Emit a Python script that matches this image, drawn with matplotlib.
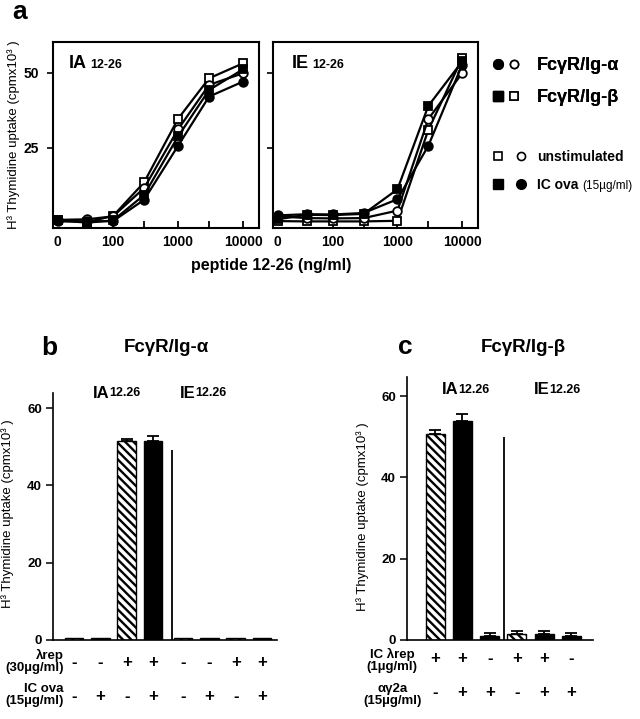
import numpy as np
import matplotlib
matplotlib.use("Agg")
import matplotlib.pyplot as plt
import matplotlib.transforms as mtransforms
from matplotlib.lines import Line2D
from matplotlib.legend_handler import HandlerTuple
from matplotlib.ticker import NullLocator

plt.rcParams["font.family"] = ["Liberation Sans", "DejaVu Sans"]
plt.rcParams["font.weight"] = "bold"
plt.rcParams["hatch.linewidth"] = 1.7

# ---- panel a: proliferation vs peptide dose ----
DOSES    = [0, 40, 100, 300, 1000, 3000, 10000]
ZERO_POS = 14     # where the "0" dose sits on the log axis

IA_ALPHA_OVA = [0.5, 0.5, 0.6, 7.7, 25.7, 42.1, 47.1]
IA_ALPHA_UNS = [1.0, 1.2, 2.2, 11.6, 31.2, 46.0, 49.9]
IA_BETA_OVA  = [0.8, 0.1, 0.8, 9.3, 28.8, 44.3, 51.2]
IA_BETA_UNS  = [1.0, 0.3, 2.3, 13.5, 34.7, 48.2, 53.2]

IE_ALPHA_OVA = [2.5, 2.9, 2.8, 3.3, 7.9, 25.7, 52.7]
IE_ALPHA_UNS = [2.2, 1.6, 1.5, 1.6, 4.1, 34.6, 49.9]
IE_BETA_OVA  = [1.2, 2.7, 2.6, 3.0, 11.2, 39.0, 53.8]
IE_BETA_UNS  = [0.6, 0.5, 0.5, 0.5, 0.7, 31.0, 54.9]

# ---- panel b: FcgR/Ig-alpha ----
B_LAMBDA = ["-", "-", "+", "+", "-", "-", "+", "+"]
B_ICOVA  = ["-", "+", "-", "+", "-", "+", "-", "+"]
B_VALUES = [0.6, 0.4, 51.4, 51.4, 0.6, 0.4, 0.4, 0.4]
B_ERRORS = [0.0, 0.0, 0.7, 1.3, 0.0, 0.0, 0.0, 0.0]

# ---- panel c: FcgR/Ig-beta ----
C_LAMBDA = ["+", "+", "-", "+", "+", "-"]
C_AG2A   = ["-", "+", "+", "-", "+", "+"]
C_VALUES = [50.8, 53.9, 1.0, 1.4, 1.4, 1.0]
C_ERRORS = [0.8, 1.8, 0.6, 0.8, 0.8, 0.6]

YLABEL = "H³ Thymidine uptake (cpmx10³ )"

W, H = 640, 719
fig = plt.figure(figsize=(W / 100, H / 100), dpi=100, facecolor="white")


def px_axes(l, t, r, b):
    return fig.add_axes([l / W, 1 - b / H, (r - l) / W, (b - t) / H])


def fy(y):
    return 1 - y / H


def label_with_sub(ax, x, y, main, sub, size, subsize, gap):
    t = ax.text(x, y, main, transform=ax.transAxes, fontsize=size,
                ha="left", va="center")
    ax.annotate(sub, xy=(1, 0.08), xycoords=t, xytext=(gap, 0),
                textcoords="offset points", fontsize=subsize,
                ha="left", va="bottom")


# ================= panel a =================
xpos = [ZERO_POS if d == 0 else d for d in DOSES]
series = [
    ("IA", [(IA_BETA_UNS, "s", "white"), (IA_ALPHA_UNS, "o", "white"),
            (IA_BETA_OVA, "s", "black"), (IA_ALPHA_OVA, "o", "black")]),
    ("IE", [(IE_BETA_UNS, "s", "white"), (IE_ALPHA_UNS, "o", "white"),
            (IE_BETA_OVA, "s", "black"), (IE_ALPHA_OVA, "o", "black")]),
]
boxes = [(53, 42, 259, 228), (273, 42, 478, 228)]

for (name, ss), box in zip(series, boxes):
    ax = px_axes(*box)
    for vals, mk, fc in ss:
        ax.plot(xpos, vals, color="black", lw=1.6, marker=mk, ms=6.2,
                mfc=fc, mec="black", mew=1.3, zorder=3)
    ax.set_xscale("log")
    ax.set_xlim(11.9, 17600)
    ax.set_ylim(-1.7, 60.3)
    ax.set_xticks([ZERO_POS, 100, 300, 1000, 3000, 10000])
    ax.set_xticklabels(["0", "100", "", "1000", "", "10000"])
    ax.xaxis.set_minor_locator(NullLocator())
    ax.xaxis.get_major_ticks()[0].tick1line.set_visible(False)
    ax.tick_params(axis="x", direction="in", length=5, width=1.3,
                   pad=5, labelsize=10)
    ax.set_yticks([25, 50])
    ax.tick_params(axis="y", direction="out", length=4, width=1.2,
                   pad=6, labelsize=10)
    if name == "IE":
        ax.set_yticklabels([])
    else:
        ax.set_ylabel(YLABEL, fontsize=9.5)
        ax.yaxis.set_label_coords(-0.16, 0.5)
    for sp in ax.spines.values():
        sp.set_linewidth(1.5)
    label_with_sub(ax, 0.075 if name == "IA" else 0.09, 0.885,
                   name, "12-26", 13, 9, 3)

fig.text(271 / W, fy(265), "peptide 12-26 (ng/ml)", fontsize=11.5,
         ha="center", va="center")
fig.text(12 / W, fy(12), "a", fontsize=19, ha="left", va="center")

# legend for panel a
fc = Line2D([], [], marker="o", ls="none", color="black", ms=7)
oc = Line2D([], [], marker="o", ls="none", mfc="white", mec="black",
            ms=5.8, mew=1.2)
fs = Line2D([], [], marker="s", ls="none", color="black", ms=6.5)
os_ = Line2D([], [], marker="s", ls="none", mfc="white", mec="black",
             ms=6, mew=1.2)

leg1 = fig.legend([(fc, oc), (fs, os_)], ["FcγR/Ig-α", "FcγR/Ig-β"],
                  handler_map={tuple: HandlerTuple(ndivide=None, pad=0.0)},
                  loc="upper left", bbox_to_anchor=(490 / W, fy(57)),
                  frameon=False, fontsize=13, handlelength=1.77,
                  handletextpad=0.83, labelspacing=0.85,
                  borderpad=0, borderaxespad=0)
fig.add_artist(leg1)
fig.legend([(os_, oc), (fs, fc)], ["unstimulated", "IC ova"],
           handler_map={tuple: HandlerTuple(ndivide=None, pad=0.5)},
           loc="upper left", bbox_to_anchor=(490 / W, fy(150)),
           frameon=False, fontsize=10, handlelength=2.81,
           handletextpad=0.57, labelspacing=1.0,
           borderpad=0, borderaxespad=0)
fig.text(582 / W, fy(186), "(15µg/ml)", fontsize=8.5, fontweight="normal",
         ha="left", va="center")


# ================= panels b and c =================
def bar_panel(ax, xs, values, errors, hatched, xlim, ylim, divider, div_top):
    bars = ax.bar(xs, values, width=0.7, color="black", edgecolor="black",
                  linewidth=1.0, zorder=2)
    for b, h in zip(bars, hatched):
        if h:
            b.set_facecolor("white")
            b.set_hatch("\\\\\\\\")
    err = np.asarray(errors)
    m = err > 0
    xs = np.asarray(xs)
    vals = np.asarray(values)
    ax.errorbar(xs[m], vals[m], yerr=[np.zeros(m.sum()), err[m]], fmt="none",
                ecolor="black", elinewidth=1.3, capsize=4, capthick=1.3,
                zorder=3)
    ax.vlines(divider, 0, div_top, color="black", lw=1.3)
    ax.set_xlim(*xlim)
    ax.set_ylim(*ylim)
    ax.set_xticks([])
    ax.set_yticks([0, 20, 40, 60])
    ax.tick_params(axis="y", direction="out", length=5, width=1.1,
                   pad=3, labelsize=9.5)
    for s in ["top", "right"]:
        ax.spines[s].set_visible(False)
    for s in ["left", "bottom"]:
        ax.spines[s].set_linewidth(1.2)
    ax.set_ylabel(YLABEL, fontsize=9.5)


def sign_row(ax, xs, signs, y):
    tr = mtransforms.blended_transform_factory(ax.transData, fig.transFigure)
    for x, s in zip(xs, signs):
        ax.text(x, fy(y), s, transform=tr, fontsize=12, ha="center",
                va="center")


# panel b
bx = np.r_[np.arange(4), np.arange(4) + 4.14]
axb = px_axes(53, 393, 277, 640)
bar_panel(axb, bx, B_VALUES, B_ERRORS, [s == "-" for s in B_ICOVA],
          (-0.8, 7.71), (0, 63.9), 3.72, 49.1)
axb.yaxis.set_label_coords(-0.172, 0.51)
sign_row(axb, bx, B_LAMBDA, 663)
sign_row(axb, bx, B_ICOVA, 696)
fig.text(64 / W, fy(661), "λrep\n(30µg/ml)", fontsize=9.5, ha="right",
         va="center", multialignment="right", linespacing=1.0)
fig.text(64 / W, fy(695), "IC ova\n(15µg/ml)", fontsize=9.5, ha="right",
         va="center", multialignment="right", linespacing=1.0)
fig.text(49 / W, fy(348), "b", fontsize=19, ha="center", va="center")
fig.text(166 / W, fy(348), "FcγR/Ig-α", fontsize=13.5, ha="center",
         va="center")
label_with_sub(axb, (93 - 53) / 224, (640 - 393) / 247, "IA", "12.26",
               12, 9, 0)
label_with_sub(axb, (180 - 53) / 224, (640 - 393) / 247, "IE", "12.26",
               12, 9, 0)

# panel c
cx = np.arange(6)
axc = px_axes(407, 377, 593, 640)
bar_panel(axc, cx, C_VALUES, C_ERRORS, [s == "-" for s in C_AG2A],
          (-1.03, 5.79), (0, 64.7), 2.53, 49.9)
axc.yaxis.set_label_coords(-0.205, 0.47)
sign_row(axc, cx, C_LAMBDA, 659)
sign_row(axc, cx, C_AG2A, 693)
fig.text(392 / W, fy(660), "IC λrep\n(1µg/ml)", fontsize=9.5, ha="center",
         va="center", multialignment="center", linespacing=1.0)
fig.text(393 / W, fy(695), "αγ2a\n(15µg/ml)", fontsize=9.5, ha="center",
         va="center", multialignment="center", linespacing=1.0)
fig.text(405 / W, fy(347), "c", fontsize=19, ha="center", va="center")
fig.text(523 / W, fy(348), "FcγR/Ig-β", fontsize=13.5, ha="center",
         va="center")
label_with_sub(axc, (442 - 407) / 186, (640 - 390) / 263, "IA", "12.26",
               12, 9, 0)
label_with_sub(axc, (534 - 407) / 186, (640 - 390) / 263, "IE", "12.26",
               12, 9, 0)

fig.savefig("out.png", dpi=100, facecolor="white")
